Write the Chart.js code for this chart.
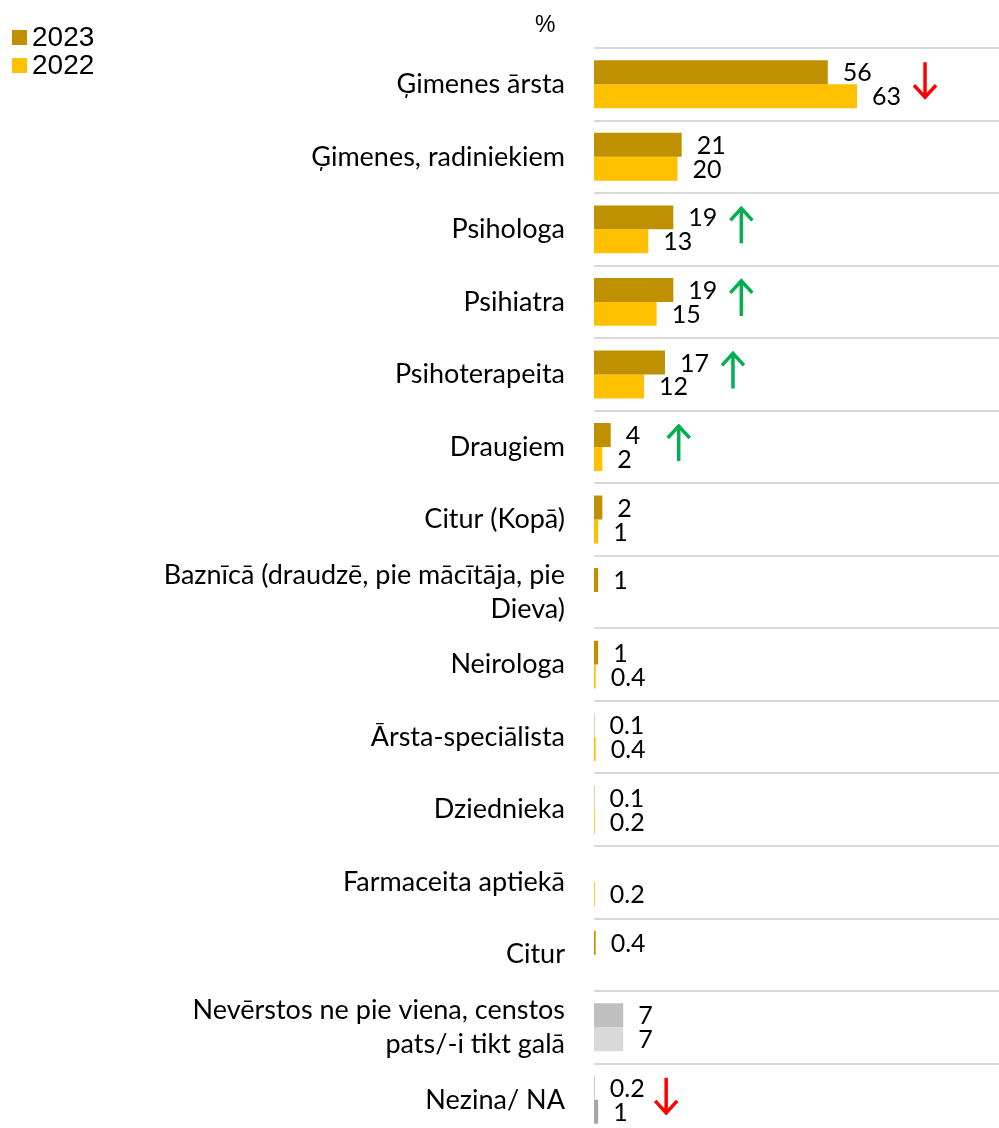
<!DOCTYPE html>
<html>
<head>
<meta charset="utf-8">
<script src="https://cdn.jsdelivr.net/npm/chart.js@4/dist/chart.umd.min.js"></script>
<style>
    html, body { margin: 0; padding: 0; background: #fff; overflow: hidden; }
    /* canvas runs a little past the window bottom, like the cropped original */
    #wrap { width: 999px; height: 1182px; position: relative; }
</style>
</head>
<body>
<div id="wrap"><canvas id="chart"></canvas></div>
<script>
// Categories (multi-line labels as arrays)
const CATEGORIES = [
    'Ģimenes ārsta',
    'Ģimenes, radiniekiem',
    'Psihologa',
    'Psihiatra',
    'Psihoterapeita',
    'Draugiem',
    'Citur (Kopā)',
    ['Baznīcā (draudzē, pie mācītāja, pie', 'Dieva)'],
    'Neirologa',
    'Ārsta-speciālista',
    'Dziednieka',
    'Farmaceita aptiekā',
    'Citur',
    ['Nevērstos ne pie viena, censtos', 'pats/-i tikt galā'],
    'Nezina/ NA'
];

const VALUES_2023 = [56, 21, 19, 19, 17, 4, 2, 1, 1, 0.1, 0.1, null, 0.4, 7, 0.2];
const VALUES_2022 = [63, 20, 13, 15, 12, 2, 1, null, 0.4, 0.4, 0.2, 0.2, null, 7, 1];

// change markers: 1 = up (green), -1 = down (red), 0 = none
const CHANGES = [-1, 0, 1, 1, 1, 1, 0, 0, 0, 0, 0, 0, 0, 0, -1];

const COLORS_2023 = ['#BF9000', '#BF9000', '#BF9000', '#BF9000', '#BF9000', '#BF9000', '#BF9000',
    '#BF9000', '#BF9000', '#BF9000', '#BF9000', '#BF9000', '#BF9000', '#BFBFBF', '#BFBFBF'];
const COLORS_2022 = ['#FFC000', '#FFC000', '#FFC000', '#FFC000', '#FFC000', '#FFC000', '#FFC000',
    '#FFC000', '#FFC000', '#FFC000', '#FFC000', '#FFC000', '#FFC000', '#D9D9D9', '#A6A6A6'];

const LABEL_FONT = "'Lato', 'Carlito', sans-serif";

const valueLabels = {
    id: 'valueLabels',
    afterDatasetsDraw(chart) {
        const ctx = chart.ctx;
        ctx.save();
        ctx.font = '25px ' + LABEL_FONT;
        ctx.fillStyle = '#000';
        ctx.textAlign = 'left';
        ctx.textBaseline = 'middle';
        chart.data.datasets.forEach((ds, di) => {
            const meta = chart.getDatasetMeta(di);
            meta.data.forEach((bar, i) => {
                const v = ds.data[i];
                if (v === null || v === undefined) return;
                ctx.fillText(String(v), bar.x + 15, bar.y + 1);
            });
        });
        ctx.restore();
    }
};

const changeArrows = {
    id: 'changeArrows',
    afterDatasetsDraw(chart) {
        const ctx = chart.ctx;
        const xs = chart.scales.x, ys = chart.scales.y;
        ctx.save();
        ctx.lineWidth = 3.5;
        CHANGES.forEach((dir, i) => {
            if (!dir) return;
            const maxVal = Math.max(VALUES_2023[i] || 0, VALUES_2022[i] || 0);
            const x = xs.getPixelForValue(maxVal) + 68;
            const cy = ys.getPixelForTick(i) - 4;
            const top = cy - 18, bottom = cy + 18;
            ctx.strokeStyle = dir > 0 ? '#00B050' : '#FF0000';
            ctx.beginPath();
            ctx.moveTo(x, top);
            ctx.lineTo(x, bottom);
            if (dir > 0) {
                ctx.moveTo(x - 11, top + 13);
                ctx.lineTo(x, top + 1);
                ctx.lineTo(x + 11, top + 13);
            } else {
                ctx.moveTo(x - 11, bottom - 13);
                ctx.lineTo(x, bottom - 1);
                ctx.lineTo(x + 11, bottom - 13);
            }
            ctx.stroke();
        });
        ctx.restore();
    }
};

const legendAndTitle = {
    id: 'legendAndTitle',
    afterDraw(chart) {
        const ctx = chart.ctx;
        ctx.save();
        ctx.font = '28px "Liberation Sans", Arial, sans-serif';
        ctx.textBaseline = 'middle';
        ctx.textAlign = 'left';
        chart.data.datasets.forEach((ds, di) => {
            const y = 37 + di * 28;
            ctx.fillStyle = ds.backgroundColor[0];
            ctx.fillRect(12, y - 7, 15, 15);
            ctx.fillStyle = '#000';
            ctx.fillText(ds.label, 32, y + 1);
        });
        ctx.font = '23px "Liberation Sans", Arial, sans-serif';
        ctx.fillText('%', 535, 26);
        ctx.restore();
    }
};

new Chart(document.getElementById('chart'), {
    type: 'bar',
    data: {
        labels: CATEGORIES,
        datasets: [
            { label: '2023', data: VALUES_2023, backgroundColor: COLORS_2023 },
            { label: '2022', data: VALUES_2022, backgroundColor: COLORS_2022 }
        ]
    },
    options: {
        indexAxis: 'y',
        responsive: true,
        maintainAspectRatio: false,
        animation: false,
        layout: { padding: { top: 48, bottom: 0, left: 0, right: 0 } },
        datasets: { bar: { categoryPercentage: 0.66, barPercentage: 1 } },
        plugins: {
            legend: { display: false },
            tooltip: { enabled: false }
        },
        scales: {
            x: { display: false, min: 0, max: 97 },
            y: {
                afterFit: (scale) => { scale.width = 594; },
                border: { display: false },
                grid: { offset: true, color: '#D9D9D9', lineWidth: 2, drawTicks: false },
                ticks: {
                    padding: 29,
                    color: '#000',
                    font: { size: 27, family: LABEL_FONT, lineHeight: 1.25 }
                }
            }
        }
    },
    plugins: [valueLabels, changeArrows, legendAndTitle]
});
</script>
</body>
</html>
